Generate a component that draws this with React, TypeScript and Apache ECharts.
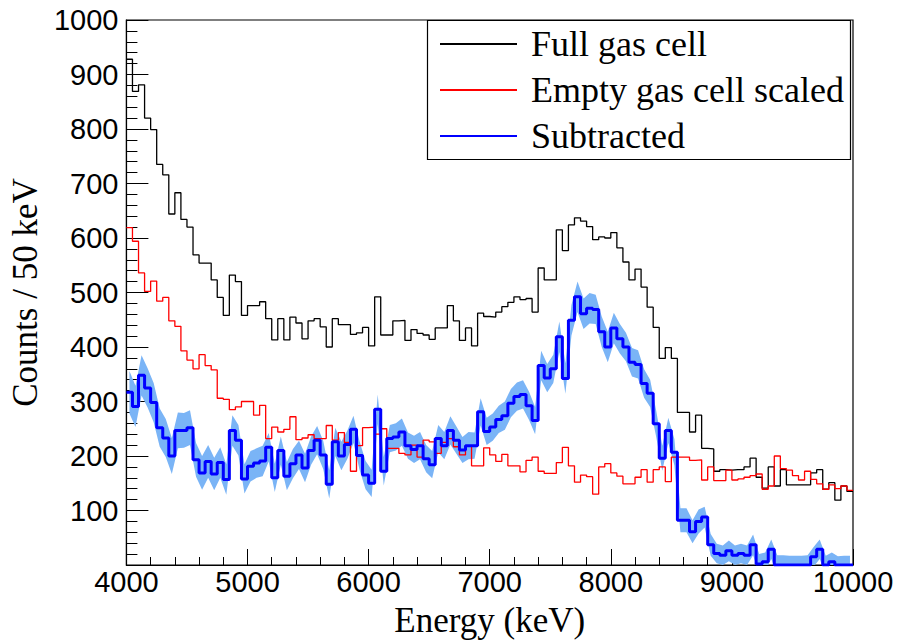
import React, { useEffect, useRef } from "react";
import * as echarts from "echarts";

// Histogram binning (keV)
const BIN_START = 4000;
const BIN_WIDTH = 50;
const X_MIN = 4000;
const X_MAX = 10000;
const X_STEP = 1000;
const Y_MIN = 0;
const Y_MAX = 1000;
const Y_STEP = 100;

// Counts per 50 keV bin, 4000-10000 keV (120 bins)
const fullGasCell = [
  928, 869, 881, 820, 799, 735, 716, 644, 683, 634,
  620, 569, 554, 554, 523, 491, 458, 532, 520, 458,
  476, 476, 483, 452, 413, 452, 413, 455, 444, 415,
  448, 452, 437, 400, 452, 441, 441, 423, 426, 436,
  402, 492, 422, 422, 448, 449, 412, 432, 425, 422,
  414, 435, 435, 476, 448, 412, 435, 402, 462, 456,
  455, 464, 474, 482, 492, 487, 489, 464, 545, 523,
  523, 615, 577, 624, 637, 631, 621, 597, 602, 600,
  610, 582, 556, 523, 543, 510, 473, 436, 379, 399,
  379, 280, 280, 244, 275, 214, 213, 172, 175, 174,
  175, 175, 180, 196, 161, 141, 180, 145, 175, 147,
  147, 147, 147, 169, 175, 139, 151, 119, 145, 135,
];

const emptyGasCellScaled = [
  619, 594, 536, 502, 521, 484, 491, 448, 438, 393,
  376, 360, 386, 366, 358, 306, 304, 285, 290, 300,
  300, 275, 293, 232, 253, 244, 249, 272, 230, 233,
  239, 232, 232, 256, 229, 243, 225, 172, 219, 252,
  253, 240, 250, 214, 214, 205, 202, 220, 198, 229,
  226, 205, 225, 232, 217, 202, 218, 182, 182, 215,
  202, 190, 203, 182, 182, 171, 192, 198, 172, 168,
  168, 188, 216, 182, 152, 165, 162, 130, 180, 186,
  169, 163, 149, 149, 161, 175, 152, 175, 180, 153,
  198, 198, 198, 192, 193, 156, 180, 155, 155, 174,
  156, 158, 161, 164, 167, 139, 145, 200, 177, 174,
  164, 156, 172, 157, 149, 139, 147, 140, 145, 137,
];

const subtracted = [
  317, 291, 348, 325, 298, 252, 233, 200, 247, 247,
  252, 193, 169, 190, 167, 188, 157, 247, 229, 158,
  181, 187, 191, 216, 160, 210, 163, 186, 202, 178,
  210, 229, 202, 148, 226, 200, 221, 249, 201, 165,
  150, 286, 172, 232, 235, 244, 219, 212, 219, 195,
  184, 232, 219, 247, 229, 211, 219, 219, 281, 245,
  253, 267, 274, 297, 309, 313, 292, 265, 366, 343,
  360, 419, 342, 449, 492, 461, 471, 469, 428, 400,
  435, 415, 400, 372, 368, 333, 315, 259, 196, 247,
  207, 82, 82, 61, 80, 88, 37, 21, 18, 26,
  18, 21, 18, 37, 2, 6, 29, 0, 0, 0,
  0, 0, 0, 15, 29, 0, 6, 0, 0, 0,
];

// Statistical uncertainty of the subtracted spectrum
const subtractedError = [
  39, 38, 37, 36, 36, 35, 35, 33, 33, 32,
  32, 31, 31, 30, 30, 28, 28, 28, 28, 27,
  28, 27, 28, 26, 26, 26, 26, 27, 26, 26,
  26, 26, 26, 26, 26, 26, 26, 25, 26, 26,
  25, 27, 26, 25, 25, 25, 24, 25, 25, 25,
  25, 25, 25, 26, 25, 24, 25, 24, 25, 25,
  25, 25, 26, 26, 26, 26, 26, 25, 27, 26,
  26, 28, 28, 28, 28, 28, 28, 27, 28, 28,
  28, 27, 26, 26, 26, 26, 25, 24, 23, 23,
  24, 22, 22, 21, 22, 19, 20, 18, 18, 19,
  18, 18, 18, 19, 18, 17, 18, 18, 18, 17,
  17, 17, 18, 18, 18, 17, 17, 16, 17, 17,
];

const LEGEND_NAMES = ["Full gas cell", "Empty gas cell scaled", "Subtracted"];
const X_TITLE = "Energy (keV)";
const Y_TITLE = "Counts / 50 keV";

const BAND_COLOR = "#7ab4f6";
const SANS = "'Liberation Sans', Arial, Helvetica, sans-serif";
const SERIF = "'Liberation Serif', 'Times New Roman', serif";

const binLowEdge = (i: number) => BIN_START + i * BIN_WIDTH;

// Step outline: one point per low bin edge plus the closing upper edge
const toSteps = (vals: number[]) => {
  const pts = vals.map((v, i) => [binLowEdge(i), v]);
  pts.push([binLowEdge(vals.length), vals[vals.length - 1]]);
  return pts;
};

// Error band points at bin centres: [x, lower, upper]
const bandData = subtracted.map((v, i) => [
  binLowEdge(i) + BIN_WIDTH / 2,
  v - subtractedError[i],
  v + subtractedError[i],
]);

export default function App() {
  const ref = useRef<HTMLDivElement>(null);

  useEffect(() => {
    if (!ref.current) return;
    const chart = echarts.init(ref.current, undefined, { renderer: "svg" });

    const option: any = {
      animation: false,
      backgroundColor: "#ffffff",
      grid: {
        left: 122,
        right: 44,
        top: 20,
        bottom: 76,
        show: true,
        borderColor: "#000",
        borderWidth: 1.2,
        backgroundColor: "transparent",
      },
      legend: {
        data: LEGEND_NAMES,
        orient: "vertical",
        left: 427,
        top: 20,
        padding: [4, 10, 4, 12],
        itemGap: 6,
        itemWidth: 77,
        itemHeight: 14,
        selectedMode: false,
        itemStyle: { opacity: 0 },
        textStyle: {
          fontFamily: SERIF,
          fontSize: 36,
          color: "#000",
          lineHeight: 40,
          padding: [0, 0, 0, 9],
        },
      },
      graphic: [
        {
          type: "rect",
          shape: { x: 427.5, y: 20.5, width: 423, height: 139 },
          style: { fill: "none", stroke: "#000", lineWidth: 1.2 },
          z: 100,
          silent: true,
        },
      ],
      xAxis: {
        type: "value",
        min: X_MIN,
        max: X_MAX,
        interval: X_STEP,
        name: X_TITLE,
        nameLocation: "middle",
        nameGap: 38,
        nameTextStyle: { fontFamily: SERIF, fontSize: 35, color: "#000" },
        axisLine: { show: true, lineStyle: { color: "#000", width: 1.2 } },
        axisTick: { show: true, inside: true, length: 16, lineStyle: { color: "#000", width: 1 } },
        minorTick: { show: true, splitNumber: 5, length: 8, lineStyle: { color: "#000", width: 1 } },
        splitLine: { show: false },
        minorSplitLine: { show: false },
        axisLabel: {
          fontFamily: SANS,
          fontSize: 29,
          color: "#000",
          margin: 2,
          formatter: (v: number) => String(v),
        },
      },
      yAxis: {
        type: "value",
        min: Y_MIN,
        max: Y_MAX,
        interval: Y_STEP,
        name: Y_TITLE,
        nameLocation: "middle",
        nameGap: 78,
        nameTextStyle: { fontFamily: SERIF, fontSize: 35, color: "#000" },
        axisLine: { show: true, lineStyle: { color: "#000", width: 1.2 } },
        axisTick: { show: true, inside: true, length: 22, lineStyle: { color: "#000", width: 1 } },
        minorTick: { show: true, splitNumber: 5, length: 11, lineStyle: { color: "#000", width: 1 } },
        splitLine: { show: false },
        minorSplitLine: { show: false },
        axisLabel: {
          fontFamily: SANS,
          fontSize: 29,
          color: "#000",
          margin: 8,
          formatter: (v: number) => (v === 0 ? "" : String(v)),
        },
      },
      series: [
        {
          type: "custom",
          name: "Subtracted uncertainty",
          data: bandData,
          clip: true,
          silent: true,
          z: 1,
          encode: { x: 0, y: [1, 2] },
          renderItem: (params: any, api: any) => {
            if (params.dataIndex !== 0) return null;
            const upper = bandData.map((d) => api.coord([d[0], d[2]]));
            const lower = bandData.map((d) => api.coord([d[0], d[1]])).reverse();
            return {
              type: "polygon",
              shape: { points: upper.concat(lower) },
              style: { fill: BAND_COLOR, stroke: "none" },
            };
          },
        },
        {
          type: "line",
          name: LEGEND_NAMES[0],
          data: toSteps(fullGasCell),
          step: "end",
          symbol: "none",
          clip: true,
          z: 2,
          color: "#000000",
          lineStyle: { color: "#000000", width: 1.3 },
        },
        {
          type: "line",
          name: LEGEND_NAMES[1],
          data: toSteps(emptyGasCellScaled),
          step: "end",
          symbol: "none",
          clip: true,
          z: 3,
          color: "#ff0000",
          lineStyle: { color: "#ff0000", width: 1.3 },
        },
        {
          type: "line",
          name: LEGEND_NAMES[2],
          data: toSteps(subtracted),
          step: "end",
          symbol: "none",
          clip: true,
          z: 4,
          color: "#0000ff",
          lineStyle: { color: "#0000ff", width: 3 },
        },
      ],
    };

    chart.setOption(option);
    return () => chart.dispose();
  }, []);

  return (
    <div
      ref={ref}
      style={{ position: "fixed", left: 0, top: 0, width: 897, height: 643, background: "#fff" }}
    />
  );
}
